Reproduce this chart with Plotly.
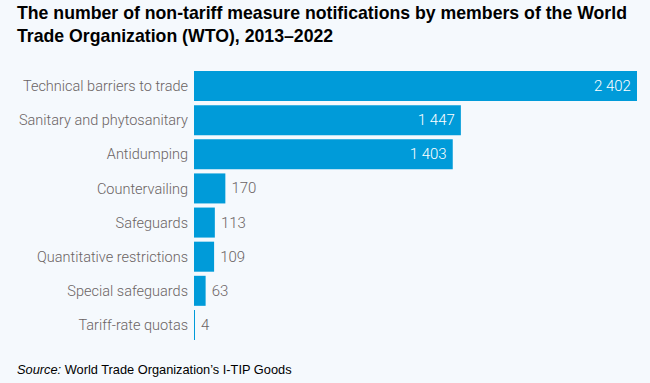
import plotly.graph_objects as go

categories = ["Technical barriers to trade", "Sanitary and phytosanitary", "Antidumping",
              "Countervailing", "Safeguards", "Quantitative restrictions",
              "Special safeguards", "Tariff-rate quotas"]
values = [2402, 1447, 1403, 170, 113, 109, 63, 4]
value_labels = ["2 402", "1 447", "1 403", "170", "113", "109", "63", "4"]

BLUE = "#009bd9"
GRAY = "#6b6464"
BG = "#f5f9fd"
LABEL_FONT = "Roboto, sans-serif"

L, R, T, B = 194, 13, 69, 41
PW, PH = 650 - L - R, 383 - T - B

inside = [v > 1000 for v in values]
positions = ["inside" if i else "outside" for i in inside]
text_colors = ["white" if i else GRAY for i in inside]
templates = ["%{text}\u2009" if i else "\u2009%{text}" for i in inside]

fig = go.Figure(go.Bar(
    x=values, y=categories, orientation="h",
    marker=dict(color=BLUE, line=dict(width=0)),
    text=value_labels, texttemplate=templates, textposition=positions,
    insidetextanchor="end",
    textfont=dict(family=LABEL_FONT, size=15, color=text_colors, weight=300),
    cliponaxis=False,
    hoverinfo="skip",
))

fig.update_layout(
    width=650, height=383,
    paper_bgcolor=BG, plot_bgcolor=BG,
    margin=dict(l=L, r=R, t=T, b=B, autoexpand=False),
    bargap=0.12,
    showlegend=False,
    xaxis=dict(range=[0, 2402], visible=False, fixedrange=True),
    yaxis=dict(autorange="reversed", showgrid=False, zeroline=False, showline=False,
               ticks="", ticklabelstandoff=5, automargin=False, fixedrange=True,
               tickfont=dict(family=LABEL_FONT, size=14.5, color=GRAY, weight=300)),
    annotations=[
        dict(
            text="<b>The number of non-tariff measure notifications by members of the World<br>Trade Organization (WTO), 2013–2022</b>",
            xref="paper", yref="paper", x=-(L - 15) / PW, y=1 + (T - 1) / PH,
            xanchor="left", yanchor="top", align="left", showarrow=False,
            font=dict(family="Liberation Sans, Arial, sans-serif", size=17.7, color="black"),
        ),
        dict(
            text="<i>Source:</i> World Trade Organization’s I-TIP Goods",
            xref="paper", yref="paper", x=-(L - 15) / PW, y=-(369 - (T + PH)) / PH,
            xanchor="left", yanchor="middle", showarrow=False,
            font=dict(family="Liberation Sans, Arial, sans-serif", size=12.8, color="black"),
        ),
    ],
)

fig.write_html("out.html", config={"displayModeBar": False},
               post_script="document.body.style.margin='0';document.body.style.padding='0';window.scrollTo(0,0);")
